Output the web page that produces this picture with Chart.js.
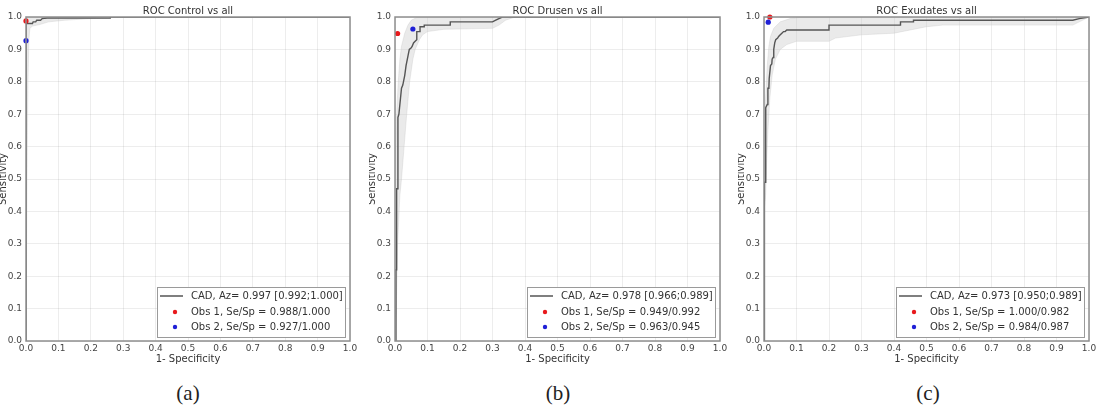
<!DOCTYPE html>
<html><head><meta charset="utf-8">
<script src="https://cdn.jsdelivr.net/npm/chart.js@4/dist/chart.umd.min.js"></script>
<style>
html,body{margin:0;padding:0;background:#fff;width:1107px;height:411px;overflow:hidden;}
.pane{position:absolute;top:0;height:365px;}
.cap{position:absolute;top:379px;width:60px;text-align:center;font-family:"Liberation Serif","Times New Roman",serif;font-size:21px;line-height:28px;color:#222;}
</style></head><body>
<div class="pane" style="left:0;width:362px"><canvas id="c0"></canvas></div>
<div class="pane" style="left:369px;width:363px"><canvas id="c1"></canvas></div>
<div class="pane" style="left:738px;width:363px"><canvas id="c2"></canvas></div>
<div class="cap" style="left:158px">(a)</div>
<div class="cap" style="left:528px">(b)</div>
<div class="cap" style="left:898px">(c)</div>
<script>
// ---- data ----
const titles = ["ROC Control vs all", "ROC Drusen vs all", "ROC Exudates vs all"];
const cadLabels = ["CAD, Az= 0.997 [0.992;1.000]", "CAD, Az= 0.978 [0.966;0.989]", "CAD, Az= 0.973 [0.950;0.989]"];
const obs1Labels = ["Obs 1, Se/Sp = 0.988/1.000", "Obs 1, Se/Sp = 0.949/0.992", "Obs 1, Se/Sp = 1.000/0.982"];
const obs2Labels = ["Obs 2, Se/Sp = 0.927/1.000", "Obs 2, Se/Sp = 0.963/0.945", "Obs 2, Se/Sp = 0.984/0.987"];
const obs1Fpr = [0.000, 0.008, 0.018];
const obs1Tpr = [0.988, 0.949, 1.000];
const obs2Fpr = [0.000, 0.055, 0.013];
const obs2Tpr = [0.927, 0.963, 0.984];
const axisTicks = [0.0, 0.1, 0.2, 0.3, 0.4, 0.5, 0.6, 0.7, 0.8, 0.9, 1.0];

// (a) Control
const aCurveFpr = [0, 0, 0, 0.02, 0.022, 0.03, 0.033, 0.045, 0.05, 0.065, 0.26, 0.26, 1];
const aCurveTpr = [0, 0.55, 0.98, 0.98, 0.985, 0.985, 0.99, 0.99, 0.995, 0.997, 0.997, 1, 1];
const aUpperFpr = [0, 0, 1];
const aUpperTpr = [0, 1, 1];
const aLowerFpr = [0, 0.003, 0.006, 0.009, 0.012, 0.02, 0.04, 0.07, 0.12, 0.2, 0.3, 1];
const aLowerTpr = [0, 0.5, 0.8, 0.93, 0.965, 0.972, 0.976, 0.985, 0.99, 0.995, 1, 1];

// (b) Drusen
const bCurveFpr = [0, 0.003, 0.003, 0.005, 0.005, 0.009, 0.009, 0.012, 0.014, 0.017, 0.02, 0.024, 0.026, 0.03, 0.034, 0.04, 0.044, 0.05, 0.053, 0.057, 0.062, 0.067, 0.067, 0.077, 0.077, 0.09, 0.09, 0.17, 0.17, 0.30, 0.31, 0.33, 1];
const bCurveTpr = [0, 0, 0.22, 0.22, 0.47, 0.47, 0.69, 0.70, 0.72, 0.75, 0.78, 0.79, 0.80, 0.82, 0.85, 0.88, 0.90, 0.905, 0.91, 0.92, 0.925, 0.93, 0.955, 0.955, 0.97, 0.97, 0.975, 0.975, 0.985, 0.985, 0.99, 1, 1];
const bUpperFpr = [0, 0, 0.003, 0.006, 0.01, 0.015, 0.02, 0.03, 0.04, 0.05, 0.07, 1];
const bUpperTpr = [0, 0.4, 0.6, 0.72, 0.8, 0.87, 0.91, 0.95, 0.975, 0.99, 1, 1];
const bLowerFpr = [0, 0.004, 0.008, 0.015, 0.02, 0.028, 0.036, 0.045, 0.055, 0.062, 0.075, 0.085, 0.1, 0.15, 0.3, 0.32, 0.34, 0.37, 1];
const bLowerTpr = [0, 0.1, 0.3, 0.45, 0.5, 0.6, 0.7, 0.8, 0.87, 0.9, 0.93, 0.945, 0.955, 0.962, 0.965, 0.975, 0.99, 1, 1];

// (c) Exudates
const cCurveFpr = [0, 0, 0.002, 0.002, 0.004, 0.004, 0.006, 0.006, 0.01, 0.012, 0.015, 0.016, 0.018, 0.02, 0.024, 0.025, 0.028, 0.03, 0.033, 0.036, 0.042, 0.045, 0.05, 0.055, 0.06, 0.065, 0.07, 0.2, 0.2, 0.42, 0.42, 0.46, 0.46, 0.95, 0.97, 1];
const cCurveTpr = [0, 0.46, 0.46, 0.49, 0.49, 0.57, 0.57, 0.72, 0.73, 0.78, 0.78, 0.81, 0.81, 0.85, 0.855, 0.87, 0.875, 0.9, 0.92, 0.93, 0.935, 0.94, 0.945, 0.95, 0.955, 0.955, 0.96, 0.96, 0.975, 0.975, 0.985, 0.985, 0.99, 0.99, 0.995, 1];
const cUpperFpr = [0, 0, 0.002, 0.005, 0.01, 0.015, 0.02, 0.03, 0.05, 0.08, 0.12, 1];
const cUpperTpr = [0, 0.5, 0.6, 0.75, 0.85, 0.91, 0.94, 0.965, 0.985, 0.995, 1, 1];
const cLowerFpr = [0, 0.005, 0.008, 0.012, 0.018, 0.025, 0.035, 0.05, 0.07, 0.1, 0.2, 0.22, 0.3, 0.4, 0.45, 0.5, 0.55, 0.95, 1];
const cLowerTpr = [0.4, 0.45, 0.55, 0.65, 0.75, 0.82, 0.87, 0.9, 0.915, 0.925, 0.925, 0.935, 0.945, 0.95, 0.96, 0.97, 0.975, 0.975, 1];

const panels = [
  {curve:[aCurveFpr,aCurveTpr], up:[aUpperFpr,aUpperTpr], lo:[aLowerFpr,aLowerTpr]},
  {curve:[bCurveFpr,bCurveTpr], up:[bUpperFpr,bUpperTpr], lo:[bLowerFpr,bLowerTpr]},
  {curve:[cCurveFpr,cCurveTpr], up:[cUpperFpr,cUpperTpr], lo:[cLowerFpr,cLowerTpr]}
];

const pts = (xs, ys) => xs.map((x, i) => ({x: x, y: ys[i]}));

Chart.defaults.font.family = "'DejaVu Sans', 'Liberation Sans', sans-serif";

const frameLegend = {
  id: 'frameLegend',
  afterDatasetsDraw(chart) {
    const ctx = chart.ctx, a = chart.chartArea;
    ctx.save();
    ctx.strokeStyle = '#8e8e8e';
    ctx.lineWidth = 1.5;
    ctx.strokeRect(a.left, a.top, a.right - a.left, a.bottom - a.top);
    const ds = chart.data.datasets;
    const w = 188, h = 50;
    const x = a.right - 5 - w, y = a.bottom - 4 - h;
    ctx.fillStyle = '#fff';
    ctx.fillRect(x, y, w, h);
    ctx.strokeStyle = '#9a9a9a';
    ctx.lineWidth = 1;
    ctx.strokeRect(x + 0.5, y + 0.5, w, h);
    ctx.font = "10px 'DejaVu Sans'";
    ctx.textBaseline = 'middle';
    ctx.textAlign = 'left';
    const rows = [y + 9, y + 25, y + 40];
    ctx.strokeStyle = '#555'; ctx.lineWidth = 1.5;
    ctx.beginPath(); ctx.moveTo(x + 3, rows[0]); ctx.lineTo(x + 26, rows[0]); ctx.stroke();
    ctx.fillStyle = ds[2].backgroundColor;
    ctx.beginPath(); ctx.arc(x + 18, rows[1], 2.2, 0, Math.PI * 2); ctx.fill();
    ctx.fillStyle = ds[3].backgroundColor;
    ctx.beginPath(); ctx.arc(x + 18, rows[2], 2.2, 0, Math.PI * 2); ctx.fill();
    ctx.fillStyle = '#333';
    ctx.fillText(ds[1].label, x + 34, rows[0]);
    ctx.fillText(ds[2].label, x + 34, rows[1]);
    ctx.fillText(ds[3].label, x + 34, rows[2]);
    ctx.restore();
  }
};

function axis(title, isY) {
  return {
    type: 'linear', min: 0, max: 1,
    afterBuildTicks: s => { s.ticks = axisTicks.map(v => ({value: v})); },
    afterFit: s => { if (isY) s.width = 26; else s.height = 24; },
    border: {display: false},
    grid: {color: 'rgba(0,0,0,0.07)', lineWidth: 1, drawTicks: false},
    ticks: {font: {size: 9}, color: '#444', padding: isY ? 4 : 2, maxRotation: 0, autoSkip: false,
            callback: v => Number(v).toFixed(1)},
    title: {display: true, text: title, color: '#333', font: {size: 10, lineHeight: isY ? 0.6 : 1.2}, padding: 0}
  };
}

panels.forEach((p, i) => {
  const up = pts(p.up[0], p.up[1]);
  const lo = pts(p.lo[0], p.lo[1]).reverse();
  new Chart(document.getElementById('c' + i), {
    type: 'scatter',
    data: {
      datasets: [
        {label: 'band', data: up.concat(lo), showLine: true, fill: 'shape', order: 4,
         backgroundColor: 'rgba(200,200,200,0.38)', borderColor: 'rgba(190,190,190,0.5)', borderWidth: 0.6, pointRadius: 0},
        {label: cadLabels[i], data: pts(p.curve[0], p.curve[1]), showLine: true, order: 3,
         borderColor: '#555', borderWidth: 1.4, pointRadius: 0, fill: false},
        {label: obs1Labels[i], data: [{x: obs1Fpr[i], y: obs1Tpr[i]}], order: 2, clip: false,
         backgroundColor: '#e8191c', borderColor: '#e8191c', pointRadius: 2.6, borderWidth: 0},
        {label: obs2Labels[i], data: [{x: obs2Fpr[i], y: obs2Tpr[i]}], order: 1, clip: false,
         backgroundColor: '#1f1fd6', borderColor: '#1f1fd6', pointRadius: 2.6, borderWidth: 0}
      ]
    },
    options: {
      responsive: true, maintainAspectRatio: false, animation: false,
      layout: {padding: {right: 12, top: 0, left: 0, bottom: 0}},
      plugins: {
        legend: {display: false}, tooltip: {enabled: false},
        title: {display: true, fullSize: false, text: titles[i], color: '#333', font: {size: 10, weight: 'normal'}, padding: {top: 5, bottom: 0}}
      },
      scales: {x: axis('1- Specificity', false), y: axis('Sensitivity', true)}
    },
    plugins: [frameLegend]
  });
});
</script>
</body></html>
